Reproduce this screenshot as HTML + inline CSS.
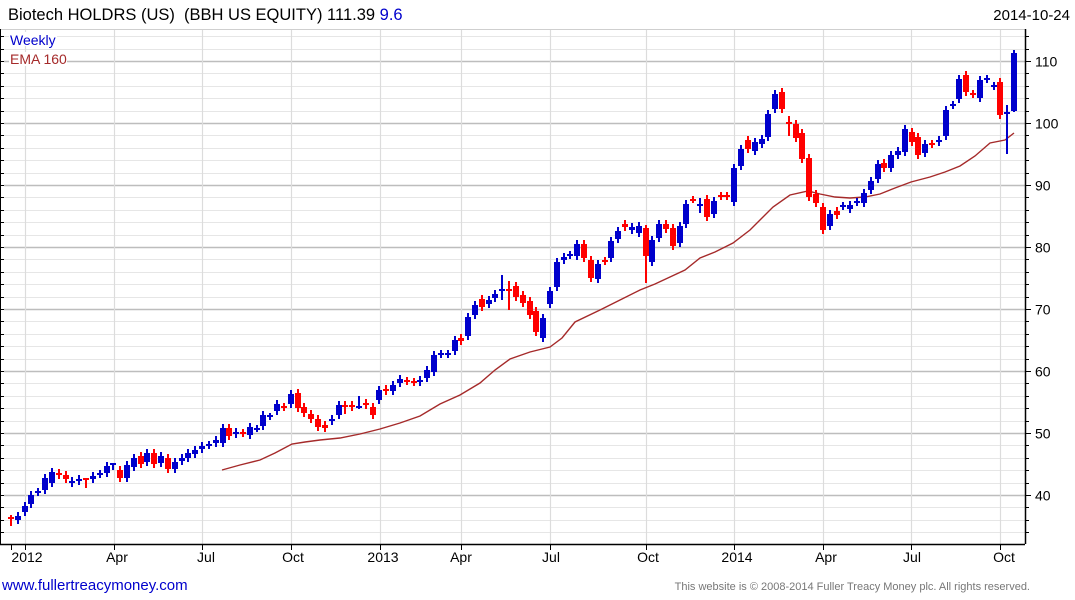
<!DOCTYPE html>
<html><head><meta charset="utf-8">
<style>
html,body{margin:0;padding:0;background:#fff;width:1075px;height:600px;overflow:hidden;font-family:"Liberation Sans",Arial,sans-serif;}
svg{display:block}
</style></head>
<body>
<svg id="c" width="1075" height="600" xmlns="http://www.w3.org/2000/svg" font-family="Liberation Sans, Arial, sans-serif">
<text x="8" y="20" font-size="16.5" fill="#000">Biotech HOLDRS (US)&#160; (BBH US EQUITY) 111.39 <tspan fill="#0000cc">9.6</tspan></text>
<text x="1070" y="20" font-size="15" fill="#000" text-anchor="end">2014-10-24</text>
<g id="grid"></g>
<g id="ema"></g>
<g id="candles"></g>
<rect x="9" y="32" width="48" height="14" fill="#fff"/>
<text x="10" y="45" font-size="14" fill="#0000cc">Weekly</text>
<rect x="9" y="52" width="58" height="14" fill="#fff"/>
<text x="10" y="64" font-size="14" fill="#a52a2a">EMA 160</text>
<text x="2" y="590" font-size="15" fill="#0000cc">www.fullertreacymoney.com</text>
<text x="1030" y="590" font-size="11" fill="#777" text-anchor="end">This website is © 2008-2014 Fuller Treacy Money plc. All rights reserved.</text>
</svg>
<script>
var NS="http://www.w3.org/2000/svg";
function el(p,t,a){var e=document.createElementNS(NS,t);for(var k in a)e.setAttribute(k,a[k]);p.appendChild(e);return e;}
var g=document.getElementById('grid');
var L=4,R=1025,T=29,B=544;
function yv(v){return 61+(110-v)*6.2;}
for(var v=32;v<=114;v+=2){var y=Math.round(yv(v))+0.5;if(y<T||y>B)continue;
 var maj=(v%10==0);
 el(g,'line',{x1:L,x2:R,y1:y,y2:y,stroke:maj?'#bdbdbd':'#e6e6e6','stroke-width':maj?1.5:1});
 el(g,'line',{x1:R,x2:R+(maj?6:4),y1:y,y2:y,stroke:'#000'});
 el(g,'line',{x1:0,x2:4,y1:y,y2:y,stroke:'#000'});
 if(maj){var t=el(g,'text',{x:1035,y:y+5,'font-size':14,fill:'#000'});t.textContent=v;}
}
var vx=[25,114,202,291,380,461,550,646,734,823,911,1000];
var lab=[[27,'2012'],[117,'Apr'],[206,'Jul'],[293,'Oct'],[383,'2013'],[461,'Apr'],[551,'Jul'],[648,'Oct'],[737,'2014'],[826,'Apr'],[912,'Jul'],[1004,'Oct']];
vx.forEach(function(x){el(g,'line',{x1:x+0.5,x2:x+0.5,y1:T,y2:B,stroke:'#dcdcdc','stroke-width':1.2});
 el(g,'line',{x1:x+0.5,x2:x+0.5,y1:B,y2:B+6,stroke:'#000'});});
el(g,'line',{x1:11.5,x2:11.5,y1:B,y2:B+6,stroke:'#000'});
lab.forEach(function(l){var t=el(g,'text',{x:l[0],y:562,'font-size':14,fill:'#000','text-anchor':'middle'});t.textContent=l[1];});
el(g,'line',{x1:0,x2:R,y1:T+0.5,y2:T+0.5,stroke:'#cfcfcf'});
el(g,'line',{x1:0,x2:R,y1:B+0.5,y2:B+0.5,stroke:'#000','stroke-width':1.5});
el(g,'line',{x1:R+0.5,x2:R+0.5,y1:T,y2:B,stroke:'#000','stroke-width':1.5});
el(g,'line',{x1:0.5,x2:0.5,y1:T,y2:B,stroke:'#000'});
var ep=[[222,470],[240,465],[260,460],[275,453],[292,444],[305,442],[320,440],[340,438],[360,434],[380,429],[400,423],[420,416],[440,404],[460,395],[480,383],[495,370],[510,359],[530,352],[550,347],[562,338],[575,322],[600,310],[620,300],[640,290],[655,284],[670,277],[685,270],[700,258],[715,252],[733,243],[750,230],[773,207],[790,195],[808,191],[820,194],[835,197],[850,198],[865,197],[880,194],[895,188],[911,182],[930,177],[945,172],[960,166],[975,156],[990,143],[1005,140],[1014,133]];
el(document.getElementById('ema'),'polyline',{points:ep.map(function(p){return p.join(',')}).join(' '),fill:'none',stroke:'#a52a2a','stroke-width':1.4});
var C=[[518,518,'r',515,526],[516,520,'b'],[506,512,'b'],[495,504,'b'],[492,492,'b'],[478,490,'b'],[472,483,'b'],[473,475,'r'],[475,479,'r'],[482,482,'b',477,487],[479,481,'b'],[479,479,'r',479,488],[476,479,'b'],[474,474,'b'],[466,473,'b'],[464,464,'b',463,470],[470,478,'r'],[465,478,'b'],[458,467,'b'],[456,464,'r'],[453,462,'b'],[453,464,'r'],[456,463,'b'],[458,469,'r'],[462,469,'b'],[458,461,'b'],[453,458,'b'],[450,454,'b'],[446,449,'b'],[445,445,'b'],[440,443,'b'],[428,443,'b'],[428,436,'r'],[432,434,'b'],[433,433,'r',429,437],[427,435,'b'],[429,429,'b',425,432],[415,426,'b'],[416,416,'b',413,420],[404,411,'b'],[407,407,'r'],[394,404,'b'],[393,408,'r'],[407,413,'r'],[414,419,'r'],[419,427,'r'],[425,428,'r'],[419,421,'b'],[405,415,'b'],[406,406,'r',401,414],[405,407,'r'],[407,407,'b',396,409],[403,405,'r'],[407,415,'r'],[390,400,'b'],[389,391,'r'],[385,391,'b'],[379,383,'b'],[381,381,'r'],[382,382,'r'],[380,382,'b'],[370,378,'b'],[355,372,'b'],[354,354,'b'],[354,354,'b'],[340,351,'b'],[338,341,'r'],[317,336,'b'],[305,315,'b'],[299,307,'r'],[300,304,'b'],[294,298,'b'],[290,290,'b',275,300],[290,290,'r',281,310],[286,297,'r'],[295,303,'r'],[301,315,'r'],[311,332,'r'],[318,338,'b'],[291,304,'b'],[262,287,'b'],[257,260,'b'],[255,255,'b'],[244,256,'b'],[244,258,'r'],[260,278,'r'],[264,279,'b'],[261,261,'r'],[241,258,'b'],[231,239,'b'],[224,227,'r'],[227,230,'b'],[226,233,'b'],[228,256,'r',225,283],[240,262,'b'],[224,238,'b'],[224,229,'r'],[228,246,'r'],[226,243,'b'],[204,224,'b'],[200,200,'r',196,203],[205,205,'b',198,213],[199,217,'r'],[201,214,'b'],[196,196,'r'],[196,196,'r'],[168,202,'b'],[149,166,'b'],[140,149,'r'],[142,151,'b'],[139,144,'b'],[114,137,'b'],[94,109,'b'],[92,109,'r'],[123,123,'r',116,136],[124,138,'r'],[133,159,'r'],[158,197,'r'],[194,203,'r'],[207,230,'r'],[214,226,'b'],[211,215,'r'],[206,206,'b'],[205,209,'b'],[202,202,'b'],[193,203,'b'],[181,190,'b'],[164,179,'b'],[163,168,'r'],[155,168,'b'],[151,155,'b'],[129,152,'b'],[132,142,'r'],[137,155,'r'],[144,153,'b'],[144,144,'r'],[140,142,'b'],[110,136,'b'],[105,105,'b'],[79,99,'b'],[75,92,'r'],[94,94,'r'],[80,98,'b'],[79,79,'b'],[86,86,'b'],[82,115,'r'],[112,114,'b',105,154],[53,111,'b',50,112]];
var cg=document.getElementById('candles');
var n=C.length,step=(1014-11)/(n-1);
C.forEach(function(c,i){
 var x=Math.round(11+i*step);var col=c[2]=='b'?'#0000cc':'#ff0000';
 var wt=c.length>3?c[3]:c[0]-4, wb=c.length>3?c[4]:c[1]+4;
 el(cg,'rect',{x:x-1,y:wt,width:2,height:wb-wt,fill:col});
 var h=Math.max(2,c[1]-c[0]);
 el(cg,'rect',{x:x-3,y:c[0]-(c[1]==c[0]?1:0),width:6,height:h,fill:col});
});
</script>
</body></html>
